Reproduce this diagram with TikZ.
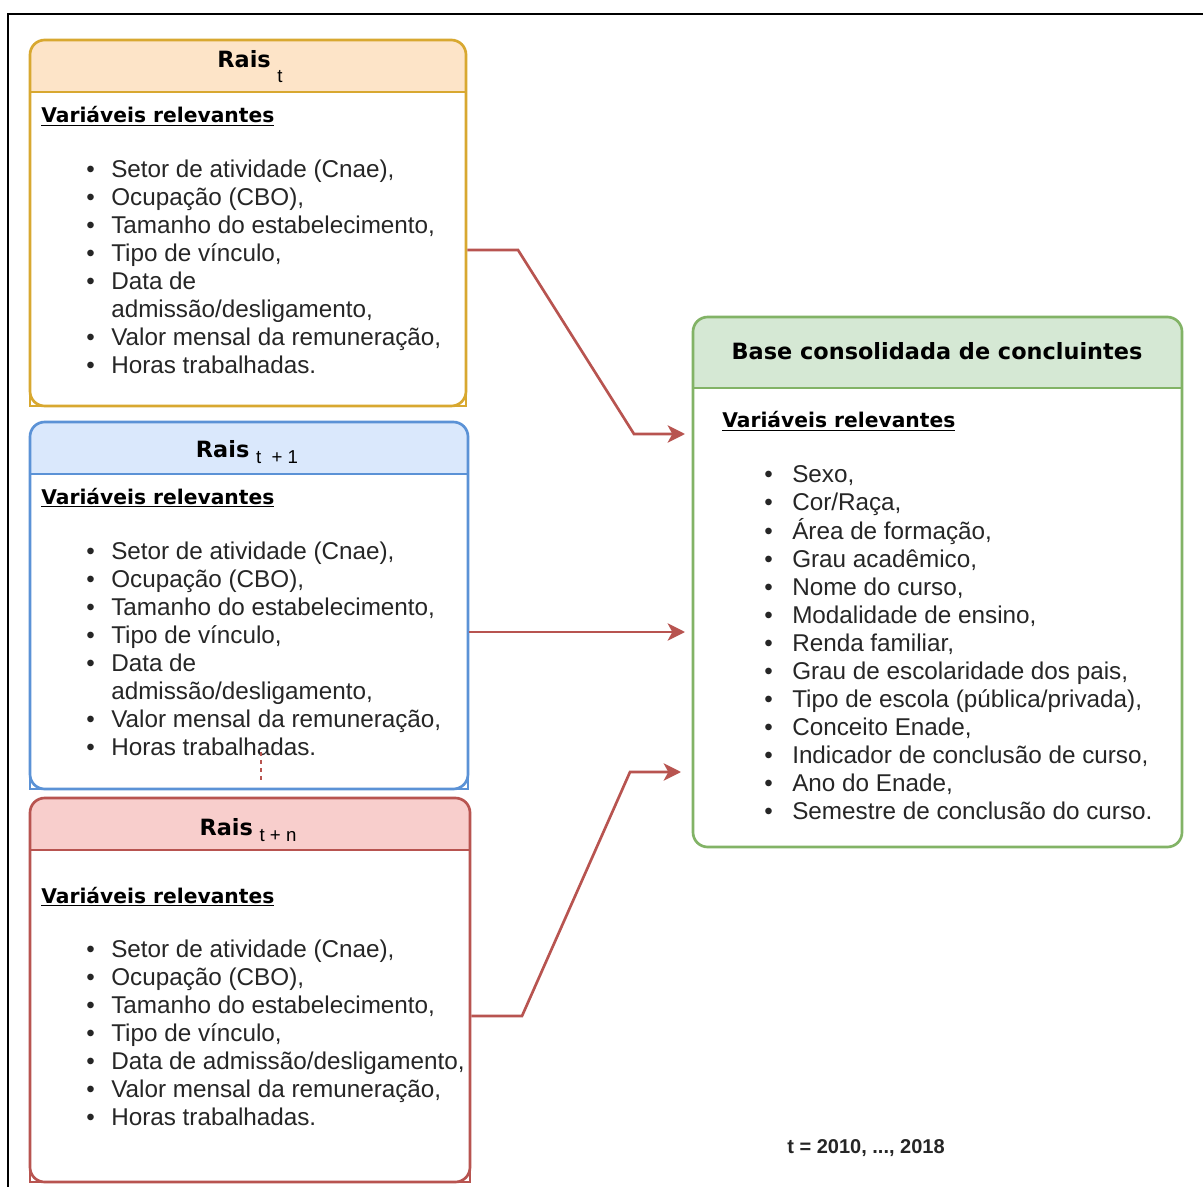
\documentclass[tikz,border=0pt]{standalone}
\usepackage{fontspec}
\setmainfont{Liberation Sans}
\newfontfamily\dejavu{DejaVu Sans}
\usetikzlibrary{arrows.meta,fit,calc}
\definecolor{yS}{HTML}{D8A830}
\definecolor{yF}{HTML}{FDE4C8}
\definecolor{bS}{HTML}{5B92D6}
\definecolor{bF}{HTML}{DAE8FC}
\definecolor{rS}{HTML}{B85450}
\definecolor{rF}{HTML}{F8CECC}
\definecolor{gS}{HTML}{82B366}
\definecolor{gF}{HTML}{D5E8D4}
\definecolor{bodygray}{HTML}{262626}
\newcommand{\itm}{\makebox[18.75pt][l]{\textbullet}}
\newcommand{\itmg}{\makebox[21pt][l]{\textbullet}}
\newcommand{\subt}[2]{\raisebox{#1}{\normalfont\fontsize{14pt}{16pt}\selectfont #2}}
\begin{document}
\begin{tikzpicture}[x=0.75pt,y=-0.75pt,
  boxframe/.style={draw, line width=2pt, rounded corners=11pt, inner sep=0pt},
  inrect/.style={line width=0.8pt},
  ttl/.style={anchor=base, inner sep=0pt, text=black, font=\dejavu\bfseries\fontsize{16.8pt}{20pt}\selectfont},
  var/.style={anchor=base west, inner sep=0pt, text=black, font=\dejavu\bfseries\fontsize{15.2pt}{18pt}\selectfont},
  lst/.style={anchor=base west, inner sep=0pt, text=bodygray, font=\fontsize{18.2pt}{21pt}\selectfont},
  conn/.style={draw=rS, line width=2pt, -{Stealth[length=13pt,width=13pt,inset=3.5pt]}, shorten >=5pt}]
\useasboundingbox (0,0) rectangle (1203,1187);
\fill[white] (0,0) rectangle (1203,1187);
% outer frame
\draw[line width=1.5pt, black] (1203,14) -- (8,14) -- (8,1187);

% ---------- Yellow box ----------
\begin{scope}\clip (30,40) rectangle (466,92);
\fill[yF, rounded corners=11pt] (30,40) rectangle (466,406);\end{scope}
\draw[yS, inrect] (30,92) rectangle (466,406);
\node[boxframe, draw=yS, fit={(30,40)(466,406)}] (yel) {};
\draw[yS, line width=1.2pt] (30,92) -- (466,92);
\node[ttl] (yelT) at (250,68) {Rais\hspace{5pt}\subt{-11.25pt}{t}};
\node[var] (yelV) at (41,123) {\underline{Variáveis relevantes}};
\node[lst] (yelL) at (86,178) {\fontsize{18.2pt}{21pt}\selectfont\begin{tabular}[t]{@{}l@{}}
\itm Setor de atividade (Cnae),\\
\itm Ocupação (CBO),\\
\itm Tamanho do estabelecimento,\\
\itm Tipo de vínculo,\\
\itm Data de\\
\makebox[18.75pt]{}admissão/desligamento,\\
\itm Valor mensal da remuneração,\\
\itm Horas trabalhadas.
\end{tabular}};

% ---------- Blue box ----------
\begin{scope}\clip (30,422) rectangle (468,474);
\fill[bF, rounded corners=11pt] (30,422) rectangle (468,789);\end{scope}
\draw[bS, inrect] (30,474) rectangle (468,789);
\node[boxframe, draw=bS, fit={(30,422)(468,789)}] (blu) {};
\draw[bS, line width=1.2pt] (30,474) -- (468,474);
\node[ttl] (bluT) at (247,457) {Rais\hspace{5pt}\subt{-5pt}{t\ \ + 1}};
\node[var] (bluV) at (41,504) {\underline{Variáveis relevantes}};
\node[lst] (bluL) at (86,559) {\fontsize{18.2pt}{21pt}\selectfont\begin{tabular}[t]{@{}l@{}}
\itm Setor de atividade (Cnae),\\
\itm Ocupação (CBO),\\
\itm Tamanho do estabelecimento,\\
\itm Tipo de vínculo,\\
\itm Data de\\
\makebox[18.75pt]{}admissão/desligamento,\\
\itm Valor mensal da remuneração,\\
\itm Horas trabalhadas.
\end{tabular}};
\draw[rS, line width=1pt, dash pattern=on 3pt off 3pt] (261,752) -- (261,780);

% ---------- Red box ----------
\begin{scope}\clip (30,798) rectangle (470,850);
\fill[rF, rounded corners=11pt] (30,798) rectangle (470,1182);\end{scope}
\draw[rS, inrect] (30,850) rectangle (470,1182);
\node[boxframe, draw=rS, fit={(30,798)(470,1182)}] (red) {};
\draw[rS, line width=1.2pt] (30,850) -- (470,850);
\node[ttl] (redT) at (248,835) {Rais\hspace{5pt}\subt{-5pt}{t + n}};
\node[var] (redV) at (41,903) {\underline{Variáveis relevantes}};
\node[lst] (redL) at (86,957) {\fontsize{18.2pt}{21pt}\selectfont\begin{tabular}[t]{@{}l@{}}
\itm Setor de atividade (Cnae),\\
\itm Ocupação (CBO),\\
\itm Tamanho do estabelecimento,\\
\itm Tipo de vínculo,\\
\itm Data de admissão/desligamento,\\
\itm Valor mensal da remuneração,\\
\itm Horas trabalhadas.
\end{tabular}};

% ---------- Green box ----------
\begin{scope}\clip (693,317) rectangle (1182,388);
\fill[gF, rounded corners=11pt] (693,317) rectangle (1182,847);\end{scope}
\node[boxframe, draw=gS, fit={(693,317)(1182,847)}] (grn) {};
\draw[gS, line width=1.5pt] (693,388) -- (1182,388);
\node[ttl] (grnT) at (937,360) {Base consolidada de concluintes};
\node[var] (grnV) at (722,428) {\underline{Variáveis relevantes}};
\node[lst] (grnL) at (764,482) {\fontsize{18.2pt}{21pt}\selectfont\begin{tabular}[t]{@{}l@{}}
\itmg Sexo,\\
\itmg Cor/Raça,\\
\itmg Área de formação,\\
\itmg Grau acadêmico,\\
\itmg Nome do curso,\\
\itmg Modalidade de ensino,\\
\itmg Renda familiar,\\
\itmg Grau de escolaridade dos pais,\\
\itmg Tipo de escola (pública/privada),\\
\itmg Conceito Enade,\\
\itmg Indicador de conclusão de curso,\\
\itmg Ano do Enade,\\
\itmg Semestre de conclusão do curso.
\end{tabular}};

% ---------- note ----------
\node[anchor=base, inner sep=0pt, font=\bfseries\fontsize{15pt}{18pt}\selectfont, text=bodygray] (note) at (866,1153) {t = 2010, ..., 2018};

% ---------- connectors ----------
\draw[conn] (yel.east |- 0,250) -- (518,250) -- (634,434) -- (grn.west |- 0,434);
\draw[conn] (blu.east |- 0,632) -- (grn.west |- 0,632);
\draw[conn, shorten >=8pt] (red.east |- 0,1016) -- (522,1016) -- (630,772) -- (grn.west |- 0,772);
\end{tikzpicture}
\end{document}
